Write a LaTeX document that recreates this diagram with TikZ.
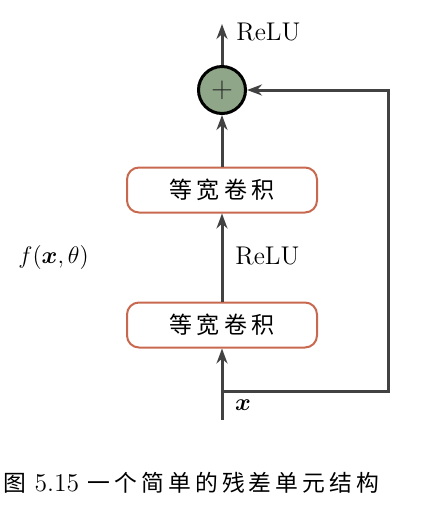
\documentclass[tikz,border=0pt]{standalone}
\usepackage{amsmath,amssymb}
\usepackage{fontspec}
\newfontfamily\cjk{Noto Sans CJK SC}[LetterSpace=18]
\usepackage{tikz}
\usetikzlibrary{arrows.meta,positioning,calc}
\definecolor{convred}{RGB}{200,104,78}
\definecolor{addgreen}{RGB}{143,166,137}
\definecolor{linegray}{RGB}{66,66,66}

\begin{document}
\begin{tikzpicture}[x=0.5pt, y=-0.5pt,
  every node/.style={font=\fontsize{12.8}{15}\selectfont, inner sep=0pt},
  conv/.style={draw=convred, line width=1pt, rounded corners=6pt,
               minimum width=95pt, minimum height=22.5pt,
               font=\cjk\fontsize{11.5}{14}\selectfont},
  addnode/.style={circle, draw=black, line width=1.5pt, fill=addgreen,
                  minimum size=23.5pt, text=black!85,
                  font=\fontsize{15}{17}\selectfont},
  arrow/.style={-{Stealth[length=7.5pt, width=5.5pt]}, line width=1.5pt,
                linegray, line join=miter},
]
\useasboundingbox (0,0) rectangle (423,510);

%% ── Residual branch ───────────────────────────────────────────────────────
\node[addnode] (add)   at (222, 90)  {$+$};
\node[conv]    (conv2) at (222, 190) {等宽卷积};
\node[conv]    (conv1) at (222, 325) {等宽卷积};

%% ── Input, output and shortcut points ────────────────────────────────────
\coordinate (xin)  at (222, 420);
\coordinate (out)  at (222, 24);
\coordinate (skip) at (222, 391);
\coordinate (turn) at (388, 90);

%% ── Connection arrows ─────────────────────────────────────────────────────
\draw[arrow] (xin) -- (conv1);
\draw[arrow] (conv1) -- (conv2);
\draw[arrow] (conv2) -- (add);
\draw[arrow] (add) -- (out);
\draw[arrow] (skip) -| (turn) -- (add);

%% Labels
\node[anchor=west] (relu2) at (236, 32.5)  {ReLU};
\node[anchor=west] (relu1) at (235, 256.5) {ReLU};
\node[anchor=west] (fx)    at (18, 257)    {$f(\boldsymbol{x},\theta)$};
\node (xlab) at (243, 405) {$\boldsymbol{x}$};

%% Caption
\node[anchor=west] (cap) at (3, 483)
  {{\cjk\fontsize{11.4}{14}\selectfont 图} 5.15
   {\cjk\fontsize{11.4}{14}\selectfont 一个简单的残差单元结构}};

\end{tikzpicture}
\end{document}
